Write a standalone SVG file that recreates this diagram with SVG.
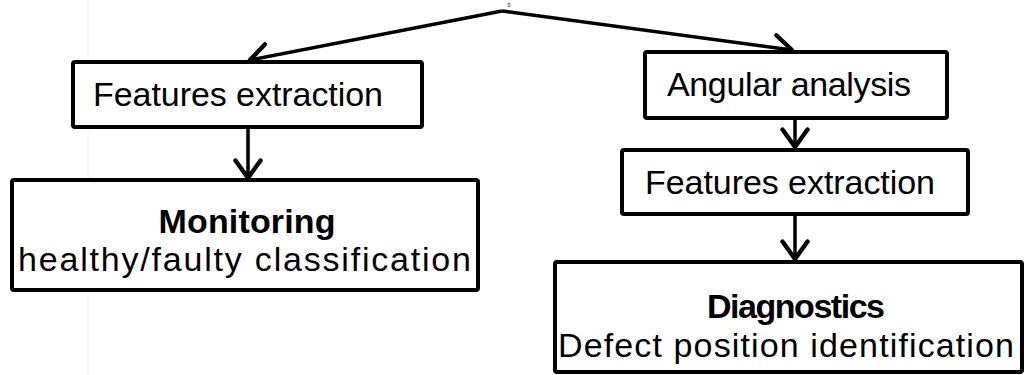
<svg xmlns="http://www.w3.org/2000/svg" width="1026" height="375" viewBox="0 0 1026 375">
<style>
.box{fill:#fff;stroke:#000;stroke-width:4;stroke-linejoin:round}
.t{font-family:"Liberation Sans",Arial,sans-serif;font-size:34px;fill:#000}
.b{font-weight:bold}
.c{fill:none;stroke:#000;stroke-width:3.5}
</style>
<defs>
<marker id="ah" markerUnits="userSpaceOnUse" markerWidth="30" markerHeight="30" viewBox="-16 -12 20 24" refX="0" refY="0" orient="auto">
<path d="M-14,-10 L0,0 L-14,10" fill="none" stroke="#000" stroke-width="3.5" stroke-linecap="round" stroke-linejoin="round"/>
</marker>
</defs>
<rect width="1026" height="375" fill="#fff"/>
<line x1="88" y1="0" x2="88" y2="375" stroke="#eeeeee" stroke-width="1"/>
<g id="connectors">
<path class="c" d="M502,11 L250,60" marker-end="url(#ah)"/>
<path class="c" d="M502,11 L792,50" marker-end="url(#ah)"/>
<path class="c" d="M248,127 L248,178" marker-end="url(#ah)"/>
<path class="c" d="M795,118 L795,147" marker-end="url(#ah)"/>
<path class="c" d="M795,214 L795,259" marker-end="url(#ah)"/>
</g>
<text x="509" y="7" font-family="Liberation Sans,Arial,sans-serif" font-size="7" fill="#444" text-anchor="middle">s</text>
<g id="fe1">
<rect class="box" x="73" y="62" width="349" height="65" rx="2"/>
<text class="t" x="93" y="106" textLength="290">Features extraction</text>
</g>
<g id="monitoring">
<rect class="box" x="12" y="180" width="466" height="110" rx="2"/>
<text class="t b" x="247" y="233" text-anchor="middle" textLength="177">Monitoring</text>
<text class="t" x="18" y="271" textLength="453">healthy/faulty classification</text>
</g>
<g id="angular">
<rect class="box" x="645" y="52" width="302" height="66" rx="2"/>
<text class="t" x="667" y="96" textLength="244">Angular analysis</text>
</g>
<g id="fe2">
<rect class="box" x="622" y="150" width="346" height="64" rx="2"/>
<text class="t" x="645" y="194" textLength="290">Features extraction</text>
</g>
<g id="diagnostics">
<rect class="box" x="555" y="262" width="467" height="110" rx="2"/>
<text class="t b" x="796" y="318" text-anchor="middle" textLength="178">Diagnostics</text>
<text class="t" x="558" y="357" textLength="456">Defect position identification</text>
</g>
</svg>
